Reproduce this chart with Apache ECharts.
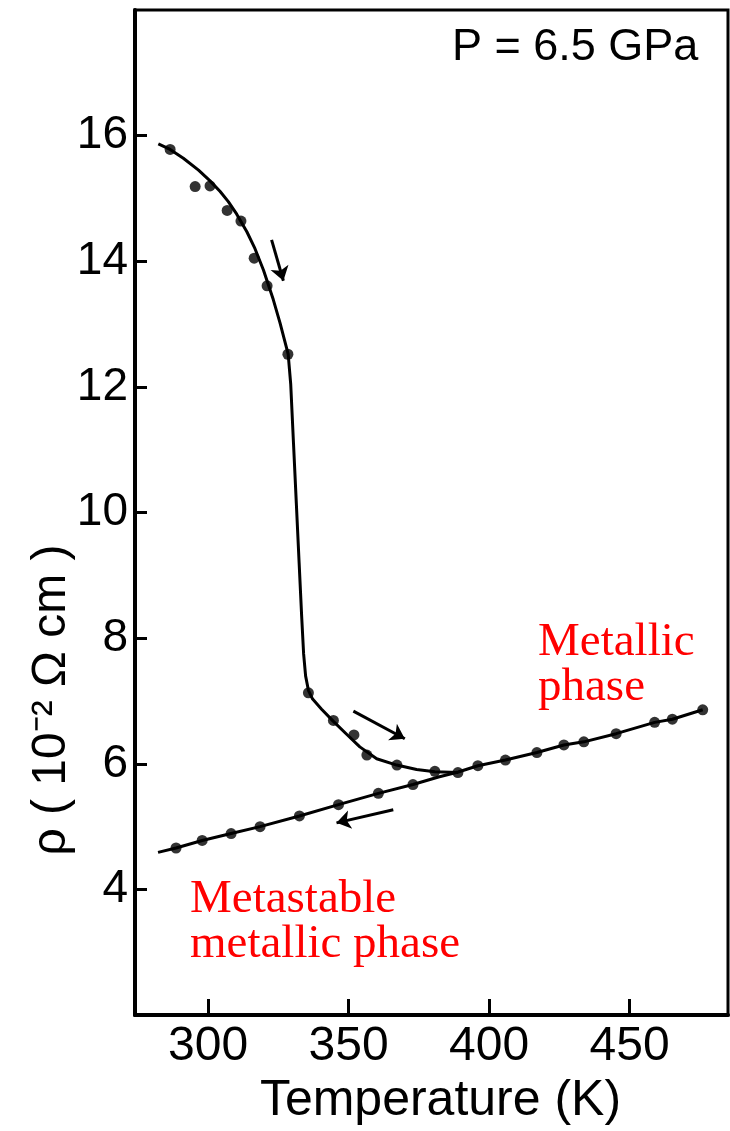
<!DOCTYPE html>
<html><head><meta charset="utf-8">
<script src="https://cdn.jsdelivr.net/npm/echarts@6/dist/echarts.min.js"></script>
<style>html,body{margin:0;padding:0;background:#fff}#c{width:730px;height:1131px}</style>
</head><body><div id="c"></div>
<script>
// tick labels
const xTicks = [300, 350, 400, 450];
const yTicks = [4, 6, 8, 10, 12, 14, 16];
// heating run: measured points
const heatT   = [286.5, 295.4, 300.7, 306.8, 311.7, 316.4, 321.0, 328.4, 335.7, 344.6, 351.9, 356.5, 367.2, 380.7, 388.9];
const heatRho = [15.78, 15.19, 15.20, 14.81, 14.64, 14.05, 13.61, 12.52, 7.13, 6.69, 6.46, 6.14, 5.98, 5.88, 5.86];
// heating run: drawn curve
const curveT   = [282.3, 286.5, 291.2, 296.6, 300.7, 304.3, 307.2, 310.2, 313.8, 316.7, 319.7, 323.2, 325.6, 328.5, 329.4, 330.4, 331.4, 332.4, 333.3, 334.0, 334.7, 335.7, 337.2, 340.4, 344.5, 349.3, 354.0, 360.0, 367.1, 374.2, 380.7, 389.0];
const curveRho = [15.87, 15.78, 15.64, 15.45, 15.28, 15.11, 14.95, 14.75, 14.47, 14.20, 13.86, 13.39, 13.02, 12.52, 12.05, 11.10, 10.15, 9.20, 8.35, 7.75, 7.40, 7.17, 7.03, 6.87, 6.68, 6.47, 6.27, 6.08, 5.98, 5.91, 5.875, 5.86];
// metallic / metastable run: measured points
const metT   = [288.6, 297.9, 308.2, 318.5, 332.5, 346.4, 360.6, 372.9, 396.0, 405.8, 417.0, 426.6, 433.7, 445.2, 458.9, 465.2, 476.0];
const metRho = [4.66, 4.78, 4.89, 5.00, 5.17, 5.35, 5.53, 5.67, 5.97, 6.06, 6.18, 6.30, 6.35, 6.48, 6.66, 6.71, 6.86];
// metallic run: drawn line
const lineT   = [282.2, 288.6, 297.9, 308.2, 318.5, 332.5, 346.4, 360.6, 372.9, 382.0, 389.0, 396.0, 405.8, 417.0, 426.6, 433.7, 445.2, 458.9, 465.2, 476.0];
const lineRho = [4.59, 4.66, 4.78, 4.89, 5.00, 5.17, 5.35, 5.53, 5.67, 5.79, 5.87, 5.97, 6.06, 6.18, 6.30, 6.35, 6.48, 6.66, 6.71, 6.86];
// direction arrows (tail -> head)
const arrowTail = [[322.6, 14.34], [351.7, 6.84], [365.9, 5.27]];
const arrowHead = [[326.8, 13.69], [370.0, 6.40], [345.7, 5.06]];

const zip = (a, b) => a.map((v, i) => [v, b[i]]);
const chart = echarts.init(document.getElementById('c'), null, {renderer: 'canvas'});
const FONT = 'Liberation Sans';
chart.setOption({
  animation: false,
  backgroundColor: '#fff',
  grid: {left: 135, right: 2, top: 10, bottom: 99, show: true, borderColor: '#000', borderWidth: 3},
  xAxis: {
    type: 'value', min: 274, max: 485,
    axisLine: {show: true, lineStyle: {color: '#000', width: 4}},
    axisTick: {show: true, inside: true, length: 16, lineStyle: {color: '#000', width: 3}, customValues: xTicks},
    axisLabel: {show: true, customValues: xTicks, color: '#000', fontSize: 48, fontFamily: FONT, margin: 8},
    splitLine: {show: false},
    name: 'Temperature (K)', nameLocation: 'middle', nameGap: 48,
    nameTextStyle: {color: '#000', fontSize: 50, fontFamily: FONT, padding: [0, 0, 0, 18]}
  },
  yAxis: {
    type: 'value', min: 2, max: 18,
    axisLine: {show: true, lineStyle: {color: '#000', width: 4}},
    axisTick: {show: true, inside: true, length: 12, lineStyle: {color: '#000', width: 3}, customValues: yTicks},
    axisLabel: {show: true, customValues: yTicks, color: '#000', fontSize: 46, fontFamily: FONT, margin: 7},
    splitLine: {show: false}
  },
  graphic: [
    {type: 'text', x: 452, y: 48, style: {text: 'P = 6.5 GPa', font: '45px "Liberation Sans"', fill: '#000', align: 'left', verticalAlign: 'middle'}},
    {type: 'text', x: 52, y: 700, rotation: Math.PI / 2, style: {text: 'ρ ( 10⁻² Ω cm )', font: '48px "Liberation Sans"', fill: '#000', align: 'center', verticalAlign: 'middle'}},
    {type: 'text', x: 538, y: 665, style: {text: 'Metallic\nphase', font: '47px "Liberation Serif"', lineHeight: 45, fill: '#ff0000', align: 'left', verticalAlign: 'middle'}},
    {type: 'text', x: 190, y: 922, style: {text: 'Metastable\nmetallic phase', font: '47px "Liberation Serif"', lineHeight: 45, fill: '#ff0000', align: 'left', verticalAlign: 'middle'}}
  ],
  series: [
    {type: 'line', data: zip(curveT, curveRho), smooth: false, showSymbol: false, symbol: 'none',
      lineStyle: {color: '#000', width: 3, join: 'round'}},
    {type: 'line', data: zip(lineT, lineRho), showSymbol: false, symbol: 'none',
      lineStyle: {color: '#000', width: 3}},
    {type: 'scatter', data: zip(heatT, heatRho), symbol: 'circle', symbolSize: 11, itemStyle: {color: '#000'}},
    {type: 'scatter', data: zip(metT, metRho), symbol: 'circle', symbolSize: 11, itemStyle: {color: '#000'}},
    {type: 'lines', coordinateSystem: 'cartesian2d',
      data: arrowTail.map((t, i) => ({coords: [t, arrowHead[i]]})),
      symbol: ['none', 'arrow'], symbolSize: 14,
      lineStyle: {color: '#000', width: 3, opacity: 1}}
  ]
});
</script></body></html>
